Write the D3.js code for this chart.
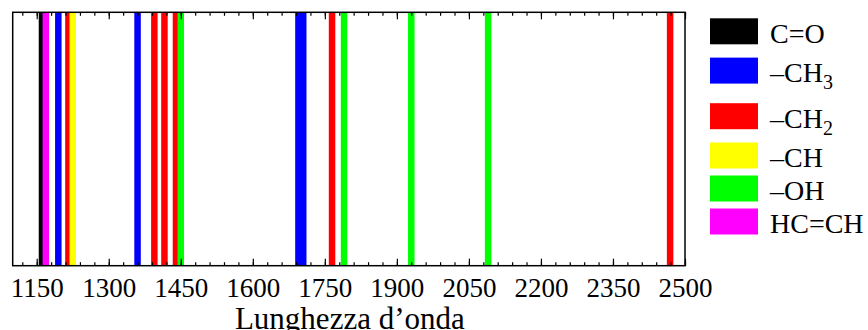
<!DOCTYPE html>
<html>
<head>
<meta charset="utf-8">
<script src="https://cdn.jsdelivr.net/npm/d3@7"></script>
<style>
  body { margin: 0; background: #fff; }
  svg { display: block; }
</style>
</head>
<body>
<svg id="chart"></svg>
<script>
//  groups, colours and wavelengths of each band
const groups = ["C=O", "CH3", "CH2", "CH", "OH", "HC=CH"];
const groupColors = ["#000000", "#0000ff", "#ff0000", "#ffff00", "#00ff00", "#ff00ff"];
const labelMain = ["C=O", "\u2013CH", "\u2013CH", "\u2013CH", "\u2013OH", "HC=CH"];
const labelSub = ["", "3", "2", "", "", ""];

const bandsCO = [1161];
const bandsCH3 = [1195, 1360, 1695, 1705];
const bandsCH2 = [1216, 1395, 1416, 1440, 1765, 2469];
const bandsCH = [1225];
const bandsOH = [1450, 1790, 1930, 2090];
const bandsHCCH = [1169];
const bandsByGroup = [bandsCO, bandsCH3, bandsCH2, bandsCH, bandsOH, bandsHCCH];

const xDomain = [1100, 2500];
const majorTicks = [1150, 1300, 1450, 1600, 1750, 1900, 2050, 2200, 2350, 2500];
const xTitle = "Lunghezza d\u2019onda";

//  draw chart
function draw_chart() {
  const w = 868
  const h = 330
  const margin = ({top: 12.3, right: 183, bottom: 64.3, left: 12.7})
  const font = "'Liberation Serif', 'Times New Roman', serif"

  const svg = d3.select("#chart").attr("width", w).attr("height", h)
  svg.selectAll('*').remove()

  const x = d3.scaleLinear().domain(xDomain).range([margin.left, w - margin.right])
  const yTop = margin.top
  const yBot = h - margin.bottom
  const bandW = 6.5

  //  bands, drawn group by group
  const bands = []
  bandsByGroup.forEach((list, gi) => list.forEach(v => bands.push({v: v, g: gi})))

  svg.append("g").selectAll("rect")
     .data(bands).enter().append("rect")
     .attr("x", d => x(d.v) - bandW / 2)
     .attr("y", yTop)
     .attr("width", bandW)
     .attr("height", yBot - yTop)
     .attr("fill", d => groupColors[d.g])

  //  minor ticks every 30, top and bottom, pointing inward
  const minorTicks = d3.range(1120, xDomain[1] + 1, 30)
  const bottomMinor = d3.axisBottom(x).tickValues(minorTicks).tickSize(-3.5).tickFormat("")
  const topMinor = d3.axisTop(x).tickValues(minorTicks).tickSize(-3.5).tickFormat("")
  const bottomMajor = d3.axisBottom(x).tickValues(majorTicks).tickSize(-7).tickFormat(d3.format("d"))
  const topMajor = d3.axisTop(x).tickValues(majorTicks).tickSize(-7).tickFormat("")

  svg.append("g").attr("transform", `translate(0,${yBot})`).call(bottomMinor)
  svg.append("g").attr("transform", `translate(0,${yTop})`).call(topMinor)
  svg.append("g").attr("transform", `translate(0,${yTop})`).call(topMajor)
  const gx = svg.append("g").attr("transform", `translate(0,${yBot})`).call(bottomMajor)

  svg.selectAll(".domain").remove()
  svg.selectAll(".tick line").attr("stroke", "#000").attr("stroke-width", 1.2)
  gx.selectAll("text")
    .attr("y", 31).attr("dy", null)
    .style("font-family", font)
    .style("font-size", "27px")
    .attr("fill", "#000")

  //  frame
  svg.append("rect")
     .attr("x", margin.left).attr("y", yTop)
     .attr("width", w - margin.right - margin.left).attr("height", yBot - yTop)
     .attr("fill", "none").attr("stroke", "#000").attr("stroke-width", 1.5)

  //  x title
  svg.append("text")
     .attr("x", (margin.left + w - margin.right) / 2 + 1)
     .attr("y", 328.5)
     .attr("text-anchor", "middle")
     .style("font-family", font)
     .style("font-size", "31px")
     .text(xTitle)

  //  legend, rows with subscripts take more room
  const legX = 710
  const swW = 48
  const swH = 26
  let legY = 18.3
  const lg = svg.append("g")
  groups.forEach((g, i) => {
    lg.append("rect")
      .attr("x", legX).attr("y", legY)
      .attr("width", swW).attr("height", swH)
      .attr("fill", groupColors[i])
    const t = lg.append("text")
      .attr("x", legX + swW + 12)
      .attr("y", legY + swH - 1.5)
      .style("font-family", font)
      .style("font-size", "28px")
    t.append("tspan").text(labelMain[i])
    if (labelSub[i] !== "")
      t.append("tspan").attr("dy", 7).style("font-size", "20px").text(labelSub[i])
    const next = i + 1 < groups.length ? labelSub[i + 1] : ""
    legY += 33 + (labelSub[i] !== "" ? 6.3 : 0) + (next !== "" ? 6.3 : 0)
  })
}

draw_chart();
</script>
</body>
</html>
